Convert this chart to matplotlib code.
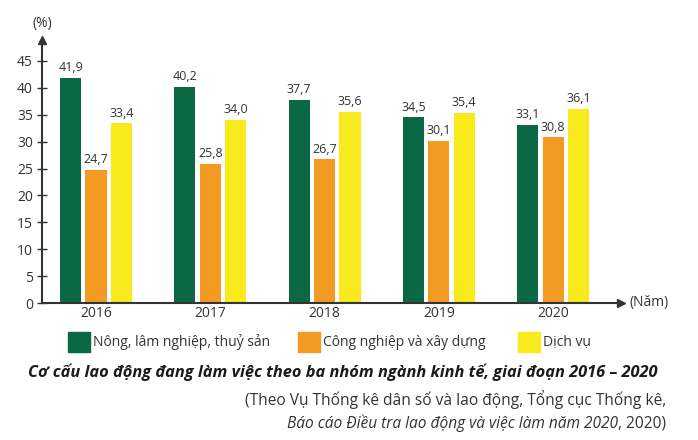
import matplotlib

matplotlib.use("Agg")
import matplotlib.pyplot as plt
import numpy as np
from matplotlib.patches import Rectangle

plt.rcParams["font.family"] = ["Open Sans", "DejaVu Sans"]

years = ["2016", "2017", "2018", "2019", "2020"]
nong_lam = [41.9, 40.2, 37.7, 34.5, 33.1]
cong_nghiep = [24.7, 25.8, 26.7, 30.1, 30.8]
dich_vu = [33.4, 34.0, 35.6, 35.4, 36.1]
series_names = ["Nông, lâm nghiệp, thuỷ sản", "Công nghiệp và xây dựng", "Dịch vụ"]
colors = ["#0b6844", "#f39a23", "#f8ea1c"]
yticks = [0, 5, 10, 15, 20, 25, 30, 35, 40, 45]

TEXT = "#333333"
W, H = 698, 440

fig = plt.figure(figsize=(6.98, 4.40), dpi=100)
ax = fig.add_axes([42 / W, 137 / H, 579 / W, 263 / H])

x = np.arange(len(years))
width = 0.185
pitch = 0.222
for i, (vals, c) in enumerate(zip([nong_lam, cong_nghiep, dich_vu], colors)):
    pos = x + (i - 1) * pitch
    ax.bar(pos, vals, width=width, color=c, edgecolor="none")
    for px, v in zip(pos, vals):
        ax.text(px, v + 0.7, f"{v:.1f}".replace(".", ","), ha="center", va="bottom",
                fontsize=9, color=TEXT)

ax.set_xlim(-0.472, 4.593)
ax.set_ylim(0, 48.9)
ax.set_yticks(yticks)
ax.set_yticklabels([str(t) for t in yticks], fontsize=10, color=TEXT)
ax.set_xticks(x)
ax.set_xticklabels(years, fontsize=10, color=TEXT)
ax.tick_params(axis="x", length=0, pad=2)
ax.tick_params(axis="y", direction="inout", length=7, width=1, color=TEXT, pad=3)
for s in ("top", "right"):
    ax.spines[s].set_visible(False)
for s in ("left", "bottom"):
    ax.spines[s].set_color(TEXT)
    ax.spines[s].set_linewidth(1.5)

# axis arrows
ax.plot(1, 0, ">", transform=ax.transAxes, color=TEXT, markersize=6, clip_on=False)
ax.plot(0, 1, "^", transform=ax.transAxes, color=TEXT, markersize=6, clip_on=False)
fig.text(42 / W, 1 - 24 / H, "(%)", ha="center", va="center", fontsize=10, color=TEXT)
fig.text(629 / W, 1 - 302 / H, "(Năm)", ha="left", va="center", fontsize=10, color=TEXT)

# legend
leg_y = 1 - 342 / H
for (lx, tx), name, c in zip([(68, 93), (298, 323), (518, 543)], series_names, colors):
    fig.patches.append(Rectangle((lx / W, leg_y - 10 / H), 22 / W, 20 / H,
                                 transform=fig.transFigure, color=c))
    fig.text(tx / W, leg_y, name, ha="left", va="center", fontsize=10, color=TEXT)

fig.text(343 / W, 1 - 372 / H,
         "Cơ cấu lao động đang làm việc theo ba nhóm ngành kinh tế, giai đoạn 2016 – 2020",
         ha="center", va="center", fontsize=11.8, fontweight="bold", fontstyle="italic",
         color="#1a1a1a")
fig.text(666 / W, 1 - 400 / H,
         "(Theo Vụ Thống kê dân số và lao động, Tổng cục Thống kê,",
         ha="right", va="center", fontsize=11.2, color=TEXT)
tail = fig.text(666 / W, 1 - 423 / H, ", 2020)", ha="right", va="center",
                fontsize=11.2, color=TEXT)
renderer = fig.canvas.get_renderer()
bb = tail.get_window_extent(renderer=renderer)
fig.text(bb.x0 / fig.bbox.width, 1 - 423 / H,
         "Báo cáo Điều tra lao động và việc làm năm 2020",
         ha="right", va="center", fontsize=11.2, fontstyle="italic", color=TEXT)

fig.savefig("out.png", dpi=100)
